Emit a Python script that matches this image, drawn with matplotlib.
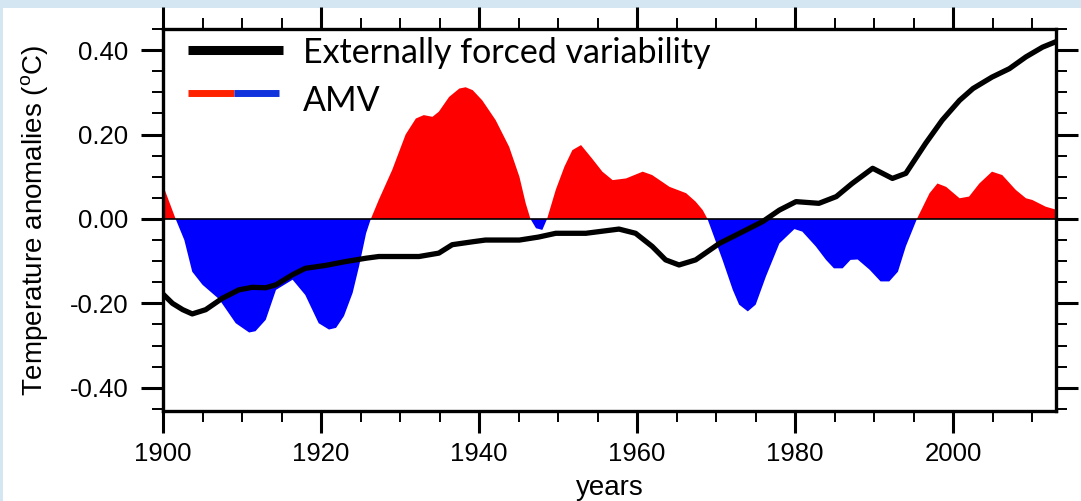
import numpy as np
import matplotlib.pyplot as plt
from matplotlib.patches import Rectangle
from matplotlib.ticker import MultipleLocator

plt.rcParams['font.family'] = ['Liberation Sans', 'DejaVu Sans']
plt.rcParams['mathtext.fontset'] = 'custom'
plt.rcParams['mathtext.rm'] = 'Liberation Sans'

# AMV index
amv_years = [1900, 1901.6, 1902.7, 1903.7, 1905, 1907.1, 1909.2, 1910.9, 1911.7, 1913,
             1914.3, 1916.4, 1918, 1919.7, 1921, 1921.9, 1922.9, 1924, 1924.8, 1925.7,
             1926.3, 1927.3, 1929, 1930.7, 1932, 1933, 1934.1, 1934.9, 1936.2, 1937.5,
             1938.3, 1939.2, 1940.4, 1942.1, 1943.8, 1945.1, 1945.9, 1946.5, 1947.2, 1948,
             1948.6, 1949.7, 1950.8, 1951.8, 1952.9, 1954.3, 1955.6, 1956.9, 1958.6, 1960.7,
             1961.9, 1964.1, 1966.2, 1967.4, 1968.3, 1968.9, 1970.8, 1972.1, 1972.9, 1974,
             1975, 1976.3, 1978, 1979.9, 1980.9, 1982.6, 1983.9, 1984.9, 1986, 1987,
             1987.9, 1989.4, 1990.8, 1991.9, 1993, 1994, 1995.4, 1997, 1998, 1999.1,
             2000.8, 2002, 2003.3, 2004.9, 2006.2, 2007.9, 2009.2, 2010, 2011.7, 2013]
amv_vals = [0.08, 0.0, -0.05, -0.125, -0.156, -0.19, -0.247, -0.269, -0.266, -0.239,
            -0.168, -0.144, -0.18, -0.247, -0.262, -0.258, -0.23, -0.175, -0.113, -0.034,
            0.0, 0.045, 0.116, 0.2, 0.238, 0.246, 0.242, 0.254, 0.289, 0.309,
            0.312, 0.305, 0.281, 0.234, 0.171, 0.1, 0.037, 0.0, -0.022, -0.026,
            0.0, 0.069, 0.124, 0.163, 0.175, 0.143, 0.112, 0.092, 0.096, 0.112,
            0.104, 0.076, 0.061, 0.041, 0.021, 0.0, -0.097, -0.168, -0.203, -0.219,
            -0.203, -0.136, -0.058, -0.024, -0.03, -0.065, -0.097, -0.117, -0.117, -0.097,
            -0.096, -0.12, -0.148, -0.148, -0.125, -0.065, 0.0, 0.061, 0.084, 0.076,
            0.049, 0.053, 0.084, 0.112, 0.104, 0.069, 0.049, 0.045, 0.029, 0.022]

# externally forced variability
forced_years = [1900, 1901.2, 1902.5, 1903.7, 1905.4, 1907.5, 1909.6, 1911.3, 1913, 1914.3,
                1916.4, 1918, 1920.6, 1923.1, 1925.7, 1927.3, 1932.4, 1934.9, 1936.6, 1939.2,
                1940.8, 1945.1, 1947.5, 1949.7, 1953.5, 1957.7, 1959.8, 1961.9, 1963.6, 1965.3,
                1967.4, 1970.4, 1972.1, 1973.8, 1975.9, 1978, 1980.1, 1983, 1985.2, 1987.2,
                1989.8, 1992.3, 1994, 1996.5, 1998.6, 2000.8, 2002.5, 2004.9, 2007.1, 2009.2,
                2011.3, 2013]
forced_vals = [-0.178, -0.2, -0.215, -0.225, -0.215, -0.188, -0.168, -0.162, -0.163, -0.156,
               -0.132, -0.117, -0.11, -0.101, -0.093, -0.089, -0.089, -0.081, -0.061, -0.054,
               -0.05, -0.05, -0.043, -0.034, -0.034, -0.024, -0.034, -0.065, -0.097, -0.109,
               -0.097, -0.058, -0.042, -0.026, -0.006, 0.021, 0.041, 0.037, 0.053, 0.084,
               0.12, 0.096, 0.108, 0.179, 0.234, 0.281, 0.309, 0.336, 0.356, 0.384,
               0.407, 0.42]

yticks = [-0.40, -0.20, 0.00, 0.20, 0.40]
xticks = [1900, 1920, 1940, 1960, 1980, 2000]

fig = plt.figure(figsize=(10.81, 5.01), dpi=100)
fig.patch.set_facecolor('#d3e6f1')
fig.patches.append(Rectangle((3 / 1081, 0), 1, 1 - 8 / 501, transform=fig.transFigure,
                             facecolor='white', edgecolor='none', zorder=-10))

ax = fig.add_axes([163 / 1081, 1 - 411 / 501, 893 / 1081, 382 / 501])
ax.set_zorder(5)

x = np.array(amv_years)
y = np.array(amv_vals)
ax.fill_between(x, 0, y, where=y >= 0, interpolate=True, color='#ff0000', lw=0)
ax.fill_between(x, 0, y, where=y <= 0, interpolate=True, color='#0000ff', lw=0)
ax.axhline(0, color='black', lw=1.2)
ax.plot(forced_years, forced_vals, color='black', lw=3.8,
        solid_joinstyle='round', solid_capstyle='round')

ax.set_xlim(1900, 2013)
ax.set_ylim(-0.455, 0.45)
ax.set_xticks(xticks)
ax.set_yticks(yticks)
ax.set_yticklabels(['%.2f' % v for v in yticks])
ax.xaxis.set_minor_locator(MultipleLocator(5))
ax.yaxis.set_minor_locator(MultipleLocator(0.05))
ax.tick_params(which='both', direction='out', top=True, right=True, labelsize=18.5)
ax.tick_params(which='major', length=16, width=2.2)
ax.tick_params(which='minor', length=8, width=1.4)
ax.tick_params(axis='x', which='major', pad=6)
ax.tick_params(axis='y', which='major', pad=9)
for s in ax.spines.values():
    s.set_linewidth(2.4)

ax.set_xlabel('years', fontsize=20, labelpad=7)
ax.set_ylabel('Temperature anomalies ($^{\\rm o}$C)', fontsize=20, labelpad=13)

# legend drawn by hand
ax.plot([0.028, 0.134], [0.945, 0.945], transform=ax.transAxes, color='black', lw=6.5,
        solid_capstyle='butt')
ax.plot([0.028, 0.079], [0.832, 0.832], transform=ax.transAxes, color='#ff2200', lw=5,
        solid_capstyle='butt')
ax.plot([0.079, 0.130], [0.832, 0.832], transform=ax.transAxes, color='#1133dd', lw=5,
        solid_capstyle='butt')
ax.text(0.157, 0.937, 'Externally forced variability', transform=ax.transAxes,
        fontsize=24.5, family=['Lato', 'DejaVu Sans'], va='center')
ax.text(0.157, 0.812, 'AMV', transform=ax.transAxes,
        fontsize=24.5, family=['Lato', 'DejaVu Sans'], va='center')

fig.savefig('out.png', dpi=100, facecolor=fig.get_facecolor())
